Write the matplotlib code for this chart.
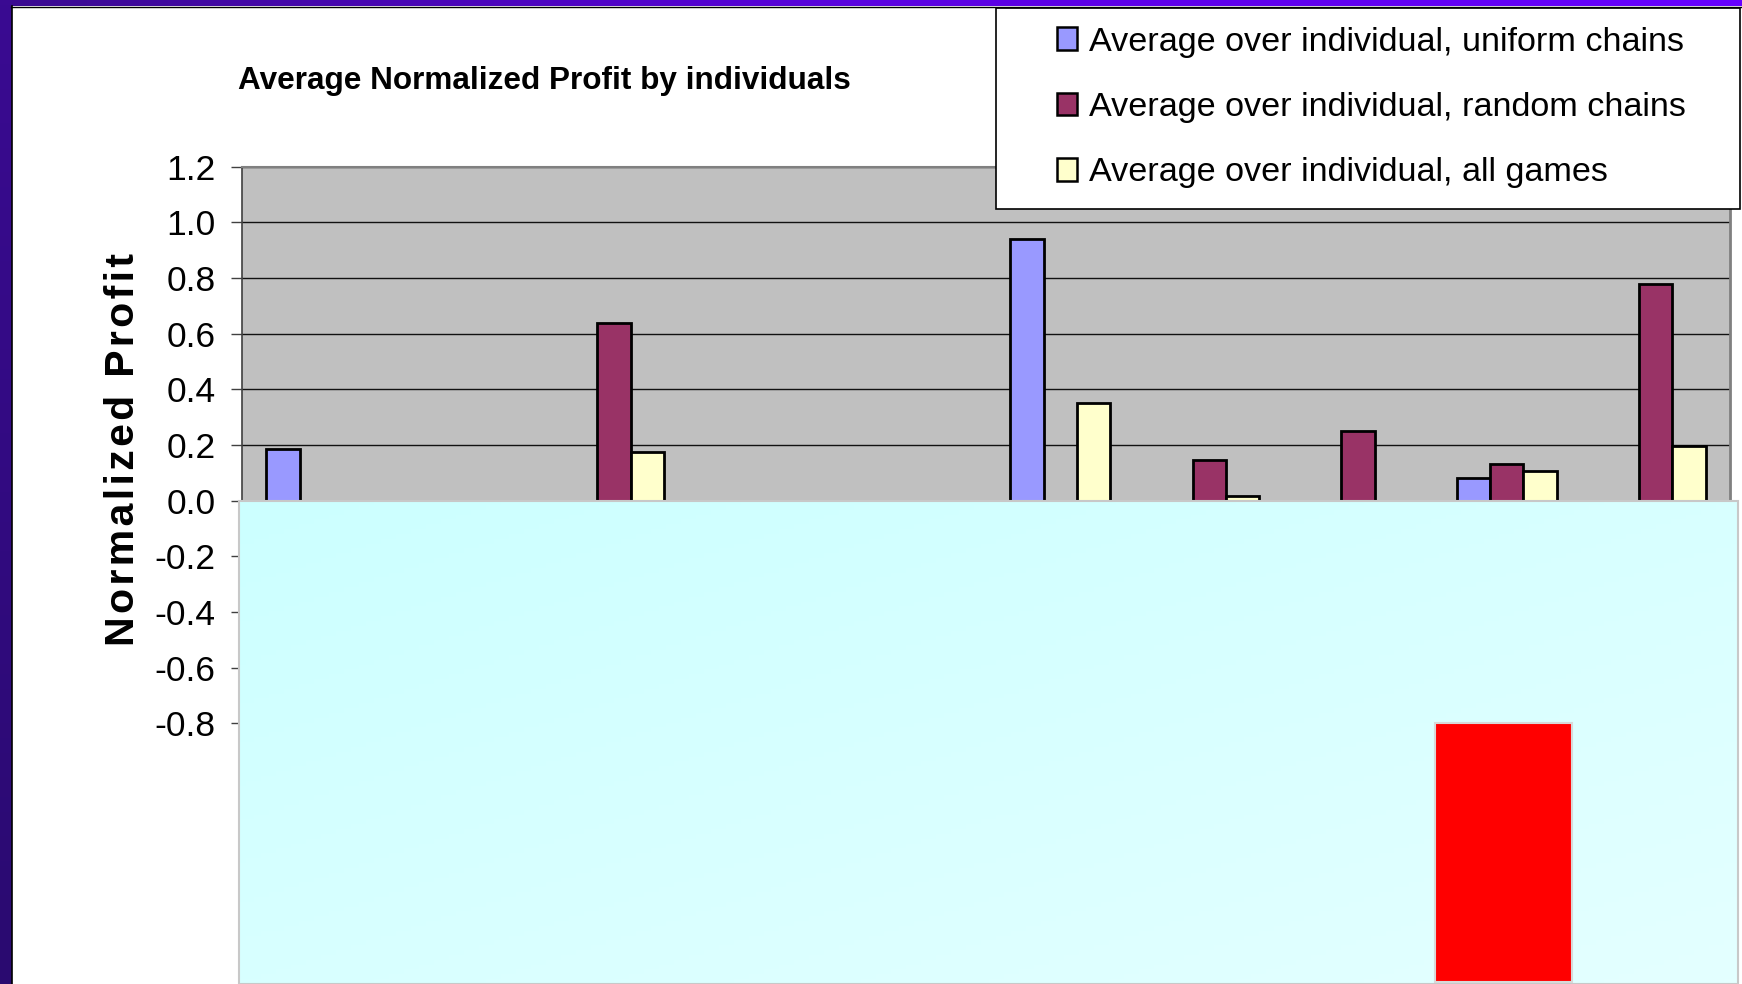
import numpy as np
import matplotlib
matplotlib.use("Agg")
import matplotlib.pyplot as plt
from matplotlib.patches import Rectangle, Patch
from matplotlib.colors import LinearSegmentedColormap
from matplotlib import font_manager

# data (hidden / covered bars left as nan)
individuals = np.arange(10)
uniform_chains = [0.185, np.nan, np.nan, np.nan, np.nan, 0.94, np.nan, np.nan, 0.08, np.nan]
random_chains = [np.nan, np.nan, 0.64, np.nan, np.nan, np.nan, 0.147, 0.25, 0.13, 0.78]
all_games = [np.nan, np.nan, 0.175, np.nan, np.nan, 0.35, 0.018, np.nan, 0.105, 0.195]

series_labels = ["Average over individual, uniform chains",
                 "Average over individual, random chains",
                 "Average over individual, all games"]
series_colors = ["#9999ff", "#993366", "#ffffcc"]

ytick_vals = [-0.8, -0.6, -0.4, -0.2, 0.0, 0.2, 0.4, 0.6, 0.8, 1.0, 1.2]
ytick_labels = ["-0.8", "-0.6", "-0.4", "-0.2", "0.0", "0.2", "0.4", "0.6", "0.8", "1.0", "1.2"]

title = "Average Normalized Profit by individuals"
ylabel = "Normalized Profit"

# no narrow font here, so use the Arial-metric one a bit smaller
names = {f.name for f in font_manager.fontManager.ttflist}
if "Liberation Sans" in names:
    fam = ["Liberation Sans", "DejaVu Sans"]
else:
    fam = ["DejaVu Sans"]

W, H = 1742, 984
fig = plt.figure(figsize=(W / 100, H / 100), dpi=100)
fig.patch.set_facecolor("white")

# plot area in pixels
left, right, top, bottom = 242, 1730, 166.7, 723.3
ax = fig.add_axes([left / W, 1 - bottom / H, (right - left) / W, (bottom - top) / H])
ax.set_facecolor("#c0c0c0")

bw = 0.224
for vals, off, col in zip([uniform_chains, random_chains, all_games], [-bw, 0, bw], series_colors):
    ax.bar(individuals + off, vals, width=bw, color=col, edgecolor="black", linewidth=2.0, zorder=3)

ax.set_xlim(-0.5, 9.5)
ax.set_ylim(-0.8, 1.2)
ax.set_xticks([])
ax.set_yticks(ytick_vals)
ax.set_yticklabels(ytick_labels, family=fam)
ax.tick_params(axis="y", direction="out", length=8, width=1, color="#404040",
               labelsize=25.5, pad=11)
ax.grid(axis="y", color="#111111", linewidth=1.0, zorder=1)
ax.set_axisbelow(True)
ax.spines["bottom"].set_visible(False)
ax.spines["left"].set_color("#404040")
ax.spines["left"].set_linewidth(1.2)
ax.spines["top"].set_color("#808080")
ax.spines["top"].set_linewidth(1.5)
ax.spines["right"].set_color("#808080")
ax.spines["right"].set_linewidth(2)

fig.text(238 / W, 1 - 81 / H, title, ha="left", va="center", fontsize=22.7,
         fontweight="bold", family=fam)
fig.text(123 / W, 1 - 450 / H, "\u200a".join(ylabel), ha="center", va="center",
         rotation=90, fontsize=29.5, fontweight="bold", family=fam)

# overlay in pixel coordinates: slide decorations covering the chart
ov = fig.add_axes([0, 0, 1, 1], zorder=5)
ov.axis("off")

zero_y = top + (1.2 / 2.0) * (bottom - top)

cyan = LinearSegmentedColormap.from_list("cy", ["#ccffff", "#e4ffff"])
gx, gy = np.meshgrid(np.linspace(0, 1, 200), np.linspace(0, 1, 100))
ov.imshow((gx + gy) / 2, cmap=cyan, extent=(239, 1738, 984, zero_y),
          aspect="auto", zorder=1)
ov.add_patch(Rectangle((239, zero_y), 1738 - 239, 984 - zero_y, fill=False,
                       edgecolor="#c8c8c8", linewidth=1.5, zorder=2))
ov.add_patch(Rectangle((1435, 723), 137, 259, facecolor="#ff0000",
                       edgecolor="#d8d8d8", linewidth=1.5, zorder=3))

# purple slide frame
purple = LinearSegmentedColormap.from_list("pu", ["#3a0a90", "#5a02e0", "#6600ff"])
ov.imshow(np.linspace(0, 1, 300)[None, :], cmap=purple, extent=(0, W, 6, 0),
          aspect="auto", zorder=6)
side = LinearSegmentedColormap.from_list("sd", ["#3a0a92", "#2a0a70"])
ov.imshow(np.linspace(0, 1, 200)[:, None], cmap=side, extent=(0, 11, H, 0),
          aspect="auto", zorder=6)
ov.plot([11.7, 11.7], [6, H], color="black", linewidth=1.2, zorder=7)
ov.plot([11, W], [6.6, 6.6], color="black", linewidth=1.0, zorder=7)

# legend box
ov.add_patch(Rectangle((996, 7.5), 744, 201.5, facecolor="white",
                       edgecolor="black", linewidth=1.2, zorder=4))
handles = [Patch(facecolor=c, edgecolor="black", linewidth=1.8) for c in series_colors]
ov.legend(handles, series_labels, loc="center left",
          bbox_to_anchor=(1057 / W, 1 - 107.5 / H), bbox_transform=fig.transFigure,
          frameon=False, borderpad=0, borderaxespad=0, handlelength=0.58,
          handleheight=0.65, handletextpad=0.35, labelspacing=1.0,
          prop={"family": fam, "size": 24.6})

ov.set_xlim(0, W)
ov.set_ylim(H, 0)

fig.savefig("out.png", dpi=100)
